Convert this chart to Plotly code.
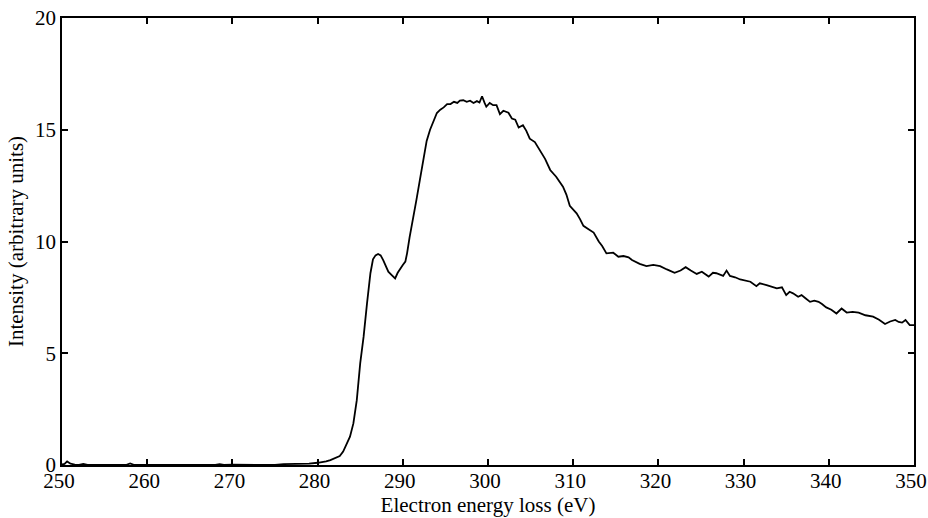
import plotly.graph_objects as go

energy = [250, 250.3, 250.6, 251, 251.5, 252, 252.5, 253, 254, 255, 256, 257, 257.5, 258, 258.5,
          259, 260, 262, 264, 266, 268, 268.5, 269, 270, 272, 274, 275, 276, 277, 278, 279, 280,
          280.5, 281, 281.5, 282, 282.6, 283, 283.4, 283.8, 284.2, 284.6, 285.0, 285.4, 285.8,
          286.2, 286.5, 286.8, 287.1, 287.4, 287.7, 288.0, 288.3, 288.7, 289.1, 289.4, 289.7,
          290.0, 290.3, 290.5, 290.8, 291.2, 291.6, 292.0, 292.4, 292.8, 293.2, 293.6, 294.0,
          294.4, 294.8, 295.2, 295.6, 296.0, 296.4, 296.7, 297.1, 297.5, 297.9, 298.3, 298.7,
          299.0, 299.3, 299.6, 299.8, 300.2, 300.6, 301.0, 301.4, 301.8, 302.4, 302.8, 303.2,
          303.6, 304.1, 304.5, 304.9, 305.5, 306.1, 306.7, 307.3, 308.0, 308.8, 309.2, 309.6,
          310.0, 310.4, 310.8, 311.2, 311.8, 312.4, 313.0, 313.4, 313.9, 314.7, 315.3, 315.9,
          316.5, 316.9, 317.8, 318.6, 319.4, 320.2, 321.0, 321.9, 322.6, 323.2, 323.8, 324.5,
          325.1, 325.9, 326.4, 326.8, 327.6, 328.0, 328.4, 329.0, 329.6, 330.2, 330.8, 331.5,
          331.9, 332.7, 333.3, 333.9, 334.5, 335.0, 335.4, 335.8, 336.4, 336.8, 337.3, 337.8,
          338.3, 338.8, 339.2, 339.7, 340.3, 340.9, 341.5, 342.1, 342.8, 343.5, 344.3, 345.2,
          345.9, 346.6, 347.2, 347.8, 348.2, 348.6, 349.0, 349.5, 350.0]

intensity = [0.02, 0.05, 0.16, 0.06, 0.02, 0.01, 0.05, 0.01, 0.0, 0.0, 0.0, 0.03, 0.0, 0.07, 0.0,
             0.0, 0.0, 0.0, 0.0, 0.0, 0.0, 0.04, 0.0, 0.02, 0.0, 0.0, 0.0, 0.04, 0.05, 0.04, 0.06, 0.1,
             0.12, 0.16, 0.22, 0.3, 0.4, 0.6, 0.9, 1.27, 1.86, 2.9, 4.55, 5.74, 7.23,
             8.58, 9.2, 9.38, 9.44, 9.38, 9.17, 8.9, 8.65, 8.5, 8.35, 8.6, 8.8,
             8.95, 9.1, 9.47, 10.2, 10.96, 11.86, 12.75, 13.6, 14.5, 15.0, 15.4, 15.75,
             15.9, 16.0, 16.15, 16.15, 16.25, 16.2, 16.3, 16.32, 16.25, 16.3, 16.2, 16.28,
             16.22, 16.5, 16.2, 16.03, 16.2, 16.1, 16.1, 15.7, 15.85, 15.76, 15.5, 15.45,
             15.1, 15.2, 14.95, 14.6, 14.45, 14.1, 13.7, 13.2, 12.9, 12.45, 12.1, 11.6,
             11.45, 11.26, 11.0, 10.7, 10.55, 10.4, 10.0, 9.8, 9.47, 9.5, 9.32, 9.35,
             9.29, 9.17, 9.0, 8.9, 8.95, 8.9, 8.75, 8.6, 8.7, 8.85, 8.7, 8.55,
             8.65, 8.43, 8.6, 8.58, 8.46, 8.7, 8.46, 8.4, 8.3, 8.25, 8.2, 8.0,
             8.13, 8.05, 7.98, 7.9, 7.95, 7.6, 7.75, 7.68, 7.53, 7.6, 7.45, 7.3,
             7.35, 7.3, 7.2, 7.05, 6.95, 6.78, 7.0, 6.82, 6.85, 6.82, 6.7, 6.64,
             6.5, 6.31, 6.42, 6.49, 6.4, 6.37, 6.49, 6.26, 6.26]

x_ticks = [250, 260, 270, 280, 290, 300, 310, 320, 330, 340, 350]
y_ticks = [0, 5, 10, 15, 20]

FAMILY = "Liberation Serif, Times New Roman, serif"

fig = go.Figure(go.Scatter(x=energy, y=intensity, mode="lines",
                           line=dict(color="black", width=1.8), showlegend=False))

axis_common = dict(showgrid=False, zeroline=False, showline=True, linecolor="black",
                   linewidth=1.5, mirror="ticks", ticks="inside", ticklen=6, tickwidth=1.5,
                   tickcolor="black", automargin=False, ticklabeloverflow="allow",
                   tickfont=dict(family=FAMILY, size=21, color="black"))

fig.update_xaxes(range=[250, 350], tickvals=x_ticks, ticklabelshift=-3, ticklabelstandoff=-4,
                 title=dict(text="Electron energy loss (eV)",
                            font=dict(family=FAMILY, size=21, color="black"), standoff=0),
                 **axis_common)
fig.update_yaxes(range=[0, 20], tickvals=y_ticks,
                 title=dict(text="Intensity (arbitrary units)",
                            font=dict(family=FAMILY, size=21, color="black"), standoff=6),
                 **axis_common)

fig.update_layout(width=928, height=518, margin=dict(l=62, r=14, t=18, b=53, autoexpand=False),
                  paper_bgcolor="white", plot_bgcolor="white",
                  font=dict(family=FAMILY, color="black"))

fig.write_html("out.html", config={"displayModeBar": False},
               post_script="document.body.style.margin='0';document.body.style.overflow='hidden';")
